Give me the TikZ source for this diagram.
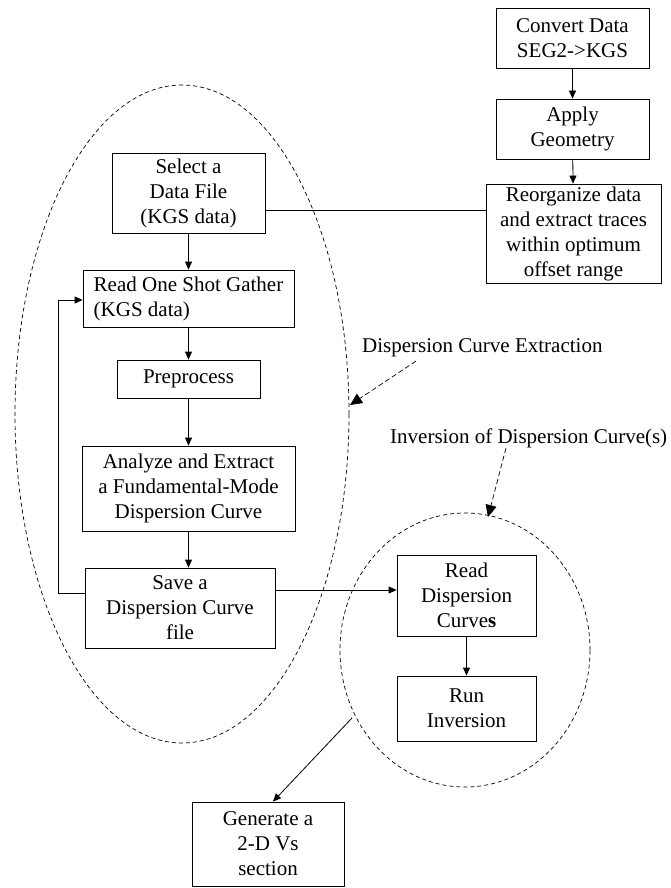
\documentclass[tikz,border=0pt]{standalone}
\usepackage{fontspec}
\setmainfont{Liberation Serif}
\usetikzlibrary{arrows.meta,shapes.geometric}

\tikzset{
  box/.style={draw, line width=0.8pt, align=center, inner sep=0pt, font=\fontsize{21}{25}\selectfont},
  flow/.style={-{Triangle[length=8pt,width=7pt]}, line width=0.8pt},
  group/.style={draw, ellipse, dash pattern=on 4pt off 3pt, line width=0.7pt, inner sep=0pt},
  hint/.style={-{Triangle[length=12pt,width=11pt]}, dash pattern=on 5pt off 3pt, line width=0.7pt},
  tag/.style={anchor=west, inner sep=0pt, font=\fontsize{21}{25}\selectfont},
}

\begin{document}
\begin{tikzpicture}[x=1pt, y=-1pt]
		%%%%% START %%%%%
		\useasboundingbox (0,0) rectangle (671,888);
		
		% groups
		\node[group, minimum width=334pt, minimum height=658pt] (extract) at (182,414) {};
		\node[group, minimum width=250pt, minimum height=274pt] (invert) at (465,650) {};
		
		% right column
		\node[box, minimum width=153pt, minimum height=60pt] (conv) at (572.5,38) {Convert Data\\SEG2->KGS};
		\node[box, minimum width=153pt, minimum height=60pt] (apply) at (572.5,129) {Apply\\Geometry};
		\node[box, minimum width=175pt, minimum height=99pt] (reorg) at (573.5,233.5) {Reorganize data\\and extract traces\\within optimum\\offset range};
		
		% extraction column
		\node[box, minimum width=153pt, minimum height=80pt] (select) at (188.5,193) {Select a\\Data File\\(KGS data)};
		\node[box, align=left, minimum width=211pt, minimum height=57pt] (read) at (188.5,298.5) {Read One Shot Gather\\(KGS data)};
		\node[box, minimum width=143pt, minimum height=38pt] (prep) at (188.5,379) {Preprocess};
		\node[box, minimum width=213pt, minimum height=85pt] (analyze) at (188.5,488.5) {Analyze and Extract\\a Fundamental-Mode\\Dispersion Curve};
		\node[box, minimum width=190pt, minimum height=80pt] (save) at (180,608) {Save a\\Dispersion Curve\\file};
		
		% inversion
		\node[box, minimum width=139pt, minimum height=81pt] (readdisp) at (466.5,595.5) {Read\\Dispersion\\Curve\textbf{s}};
		\node[box, minimum width=139pt, minimum height=65pt] (run) at (466.5,708.5) {Run\\Inversion};
		\node[box, minimum width=152pt, minimum height=84pt] (gen) at (268,844) {Generate a\\2-D Vs\\section};
		
		% labels
		\node[tag] (extlabel) at (362,348) {Dispersion Curve Extraction};
		\node[tag] (invlabel) at (390,438) {Inversion of Dispersion Curve(s)};
		
		\coordinate (extfrom) at (416,361);
		\coordinate (extto) at (350,405);
		\coordinate (invfrom) at (506,448);
		\coordinate (invto) at (488,517);
		\coordinate (invout) at (352,718);
		\coordinate (loop) at (58,300);
		
		% connectors
		\draw[flow] (conv) -- (apply);
		\draw[flow] (apply) -- (reorg);
		\draw[line width=0.8pt] (select.east |- 0,210) -- (reorg.west |- 0,210);
		\draw[flow] (select) -- (read);
		\draw[flow] (read) -- (prep);
		\draw[flow] (prep) -- (analyze);
		\draw[flow] (analyze.south) -- (analyze.south |- save.north);
		\draw[flow] (save.west |- 0,593) -| (loop) -- (read.west |- loop);
		\draw[flow] (save.east |- 0,590) -- (readdisp.west |- 0,590);
		\draw[flow] (readdisp) -- (run);
		\draw[flow] (invout) -- ([xshift=5pt]gen.north);
		
		\draw[hint] (extfrom) -- (extto);
		\draw[hint] (invfrom) -- (invto);
		
		%%%%% END %%%%%
\end{tikzpicture}
\end{document}
